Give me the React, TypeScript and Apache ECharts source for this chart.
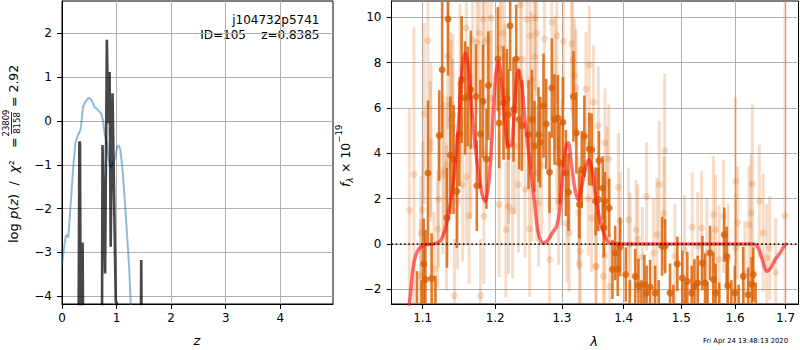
import React, { useEffect, useRef } from "react";
import * as echarts from "echarts";

const FONT = "DejaVu Sans";

// ---------- Left panel: log p(z) ----------
const zTicks = [0, 1, 2, 3, 4];
const logpTicks = [-4, -3, -2, -1, 0, 1, 2];

const blueZ = [0, 0.03, 0.07, 0.10, 0.115, 0.155, 0.21, 0.245, 0.28, 0.337, 0.355, 0.385, 0.43, 0.49, 0.54, 0.6, 0.64, 0.68, 0.72, 0.75, 0.78, 0.825, 0.85, 0.89, 0.935, 0.98, 1.01, 1.04, 1.07, 1.11, 1.15, 1.19, 1.23, 1.26, 1.3];
const blueLogP = [-3.3, -2.95, -2.62, -2.6, -2.66, -1.96, -1.0, -0.5, -0.36, -0.21, -0.05, 0.33, 0.44, 0.53, 0.48, 0.31, 0.28, 0.22, 0.17, 0.02, -0.28, -0.51, -0.82, -1.08, -0.97, -0.82, -0.59, -0.55, -0.66, -1.12, -1.8, -2.56, -3.33, -4.2, -5.0];

const chiZ = [0.30, 0.318, 0.330, 0.345, 0.365, 0.378, 0.392, 0.730, 0.742, 0.790, 0.822, 0.845, 0.872, 0.892, 0.925, 0.985, 1.005, 1.02, 1.438, 1.452, 1.462];
const chiLogP = [-6, -0.47, -0.5, -6, -6, -2.77, -6, -6, -0.55, -3.48, 1.85, -0.05, 1.12, -2.87, 0.63, -4.12, -4.15, -6, -6, -3.17, -6];

// ---------- Right panel: spectrum ----------
const lamTicks = [1.1, 1.2, 1.3, 1.4, 1.5, 1.6, 1.7];
const fluxTicks = [-2, 0, 2, 4, 6, 8, 10];

const modelLam = [1.080, 1.0834, 1.0877, 1.0929, 1.1008, 1.1141, 1.1230, 1.1298, 1.1366, 1.1435, 1.1481, 1.1528, 1.1573, 1.1619, 1.1667, 1.1737, 1.1808, 1.1855, 1.1902, 1.1951, 1.1998, 1.2045, 1.2094, 1.2143, 1.2191, 1.2240, 1.2288, 1.2337, 1.2387, 1.2436, 1.2511, 1.2586, 1.2636, 1.2712, 1.2789, 1.2866, 1.2919, 1.2970, 1.3022, 1.3064, 1.3100, 1.3153, 1.3205, 1.3257, 1.3311, 1.3380, 1.3433, 1.3488, 1.3541, 1.3606, 1.3688, 1.3771, 1.3900, 1.6355, 1.6453, 1.6552, 1.6620, 1.6700, 1.6787, 1.6888, 1.6989, 1.7029];
const modelFlux = [-3.2, -2.38, -0.99, -0.33, -0.06, 0.0, 0.11, 0.63, 1.66, 3.42, 5.19, 7.54, 8.43, 7.83, 5.92, 3.72, 2.25, 1.88, 2.54, 4.60, 7.10, 8.05, 7.10, 5.34, 4.31, 4.38, 6.37, 7.69, 7.10, 5.48, 3.57, 1.66, 0.49, 0.04, 0.19, 0.56, 0.78, 1.66, 3.42, 4.31, 4.46, 3.42, 2.40, 1.95, 2.54, 3.42, 3.72, 3.13, 1.95, 1.07, 0.34, 0.04, 0.0, 0.0, -0.18, -0.84, -1.21, -1.06, -0.69, -0.40, -0.03, 0.0];

const zeroLam = [1.0596, 1.7266];
const zeroFlux = [0, 0];

// [lambda, flux, error]
const darkPoints = [
  [1.0925, -3.0, 1.8], [1.0985, -3.2, 1.6], [1.1014, -0.88, 2.0], [1.1036, -1.57, 2.2], [1.107, 3.13, 3.2],
  [1.1118, -1.53, 2.0], [1.117, -2.9, 1.5], [1.122, 4.78, 2.0], [1.126, 7.69, 3.0], [1.1325, 1.15, 2.2],
  [1.134, 9.93, 2.5], [1.137, 3.91, 2.6], [1.1415, 3.72, 2.4], [1.146, 2.32, 2.5], [1.1495, 4.85, 2.3],
  [1.1526, 7.25, 2.8], [1.1574, 6.44, 2.5], [1.161, 6.51, 2.2], [1.1653, 6.81, 2.6], [1.1725, 6.51, 2.3],
  [1.1738, 2.57, 2.0], [1.1788, 4.85, 2.4], [1.1825, 6.29, 2.5], [1.1874, 3.75, 2.2], [1.1902, 6.99, 2.4],
  [1.2038, 8.16, 2.3], [1.2057, 5.34, 2.0], [1.212, 6.22, 2.5], [1.217, 6.40, 2.2], [1.2193, 5.71, 2.0],
  [1.2217, 9.63, 2.0], [1.2266, 5.93, 2.3], [1.2306, 8.16, 2.4], [1.235, 5.49, 2.2], [1.239, 5.22, 2.0],
  [1.2489, 4.82, 2.4], [1.254, 5.49, 2.2], [1.2579, 4.31, 2.0], [1.264, 4.82, 2.1], [1.2665, 4.49, 2.0],
  [1.2716, 6.10, 2.3], [1.2757, 5.29, 2.0], [1.2808, 3.16, 1.8], [1.2844, 6.88, 2.2], [1.2884, 5.49, 2.0],
  [1.2937, 5.56, 1.9], [1.2962, 3.57, 1.8], [1.3015, 5.37, 2.0], [1.3062, 3.13, 1.9], [1.3102, 2.28, 1.7],
  [1.318, 6.51, 2.0], [1.3227, 4.90, 1.8], [1.3275, 1.74, 1.5], [1.3313, 3.28, 1.7], [1.3354, 4.75, 1.8],
  [1.3433, 4.19, 1.6], [1.3472, 4.16, 1.6], [1.3536, 1.88, 1.5], [1.358, 1.96, 1.4], [1.359, 3.68, 1.3],
  [1.3652, 2.47, 1.4], [1.367, 0.71, 1.3], [1.3688, 1.88, 1.3], [1.3758, 1.59, 1.3], [1.3812, -1.13, 1.3],
  [1.3857, -0.40, 1.2], [1.390, -1.10, 1.2], [1.394, -0.13, 1.3], [1.4035, -1.35, 1.2], [1.41, -2.9, 1.3],
  [1.4195, -1.43, 1.2], [1.425, -1.84, 1.2], [1.43, -3.0, 1.4], [1.435, -1.79, 1.3], [1.439, -2.16, 1.2],
  [1.445, -1.90, 1.2], [1.4538, -2.16, 1.2], [1.46, -2.8, 1.2], [1.466, -0.10, 1.3], [1.4714, -0.10, 1.2],
  [1.480, -2.16, 1.3], [1.486, -3.1, 1.3], [1.493, -0.88, 1.2], [1.502, -1.50, 1.2], [1.507, -2.9, 1.2],
  [1.511, -1.65, 1.3], [1.519, -2.16, 1.2], [1.524, -1.87, 1.2], [1.530, -1.72, 1.2], [1.5385, -0.84, 1.2],
  [1.5435, -1.72, 1.3], [1.548, -2.9, 1.2], [1.5528, -0.40, 1.2], [1.5589, -1.57, 1.2], [1.5632, -2.16, 1.3],
  [1.57, -3.0, 1.3], [1.5795, 0.41, 1.2], [1.584, -0.54, 1.3], [1.586, -1.84, 1.2], [1.593, -2.8, 1.2],
  [1.5997, -2.16, 1.2], [1.607, -3.1, 1.3], [1.6158, -1.43, 1.3], [1.6256, -2.24, 1.2], [1.6323, -1.79, 1.2],
  [1.6355, -1.35, 1.2], [1.64, -2.9, 1.2],
];

const lightPoints = [
  [1.0825, 1.5, 4.5], [1.0885, 3.06, 6.5], [1.107, 8.97, 3.0], [1.102, 5.75, 4.0], [1.111, 4.49, 3.5],
  [1.110, 4.19, 3.0], [1.100, 1.51, 3.0], [1.0975, 0.49, 2.5], [1.120, 0.66, 2.6], [1.115, -1.10, 2.5],
  [1.0972, -1.40, 2.5], [1.121, 1.96, 3.0], [1.127, 3.06, 3.5], [1.1285, 3.25, 3.0], [1.132, 1.15, 3.2],
  [1.138, 5.51, 3.5], [1.137, 6.15, 3.2], [1.140, 5.16, 3.0], [1.1407, 5.69, 3.6], [1.1335, 8.28, 3.2],
  [1.1427, -2.28, 2.5], [1.147, 1.88, 3.0], [1.154, 2.62, 3.4], [1.159, 2.96, 3.0], [1.159, 9.53, 3.0],
  [1.168, 9.01, 3.5], [1.177, 9.31, 3.0], [1.174, 8.90, 3.2], [1.184, 8.90, 3.0], [1.189, 9.04, 3.3],
  [1.1825, 9.90, 3.0], [1.194, 9.97, 3.0], [1.1653, 4.31, 3.2], [1.163, 1.25, 3.0], [1.179, -2.28, 2.5],
  [1.1838, 1.22, 3.0], [1.1505, 7.10, 3.5], [1.194, 6.44, 3.0], [1.1324, 3.50, 3.0],
  [1.2365, 10.56, 3.0], [1.2464, 9.90, 3.0], [1.2589, 9.97, 3.2], [1.2514, 9.19, 3.0], [1.2614, 9.31, 2.8],
  [1.2844, 9.78, 3.0], [1.2921, 9.19, 3.0], [1.273, 9.04, 3.0], [1.3025, 8.94, 2.8], [1.315, 8.84, 3.0],
  [1.317, 8.13, 2.6], [1.2095, 9.31, 3.0], [1.207, 8.65, 3.0], [1.2133, 8.31, 3.0], [1.239, 8.16, 3.0],
  [1.258, 8.25, 3.0], [1.2529, 7.25, 3.0], [1.2895, 7.28, 2.8], [1.320, 7.43, 2.5], [1.3223, 6.88, 2.6],
  [1.338, 6.84, 2.5], [1.350, 6.25, 2.5], [1.3433, 7.91, 2.6], [1.234, 2.62, 3.0], [1.2436, 2.40, 3.0],
  [1.2057, 1.74, 3.2], [1.2193, 1.66, 3.0], [1.2252, 1.47, 3.0], [1.2154, 0.63, 3.0], [1.2504, 0.66, 3.0],
  [1.2641, 1.81, 2.8], [1.2808, -0.69, 2.8], [1.2948, 1.88, 2.8], [1.3077, 0.90, 2.6], [1.3114, 0.49, 2.6],
  [1.3288, -0.32, 2.4], [1.3275, -0.88, 2.5], [1.3536, -0.99, 2.4], [1.347, 1.15, 2.4], [1.2614, 3.13, 3.0],
  [1.2538, 3.13, 3.0], [1.269, 3.46, 3.0], [1.300, 3.60, 2.8], [1.292, 4.31, 2.8], [1.229, 4.31, 3.0],
  [1.219, 3.90, 3.0], [1.2144, 6.69, 3.0], [1.3262, 1.37, 2.5], [1.3418, 1.99, 2.5],
  [1.358, 5.22, 2.6], [1.369, 4.46, 2.4], [1.375, 3.75, 2.4], [1.372, 2.69, 2.5], [1.391, 2.50, 2.4],
  [1.394, 1.00, 2.2], [1.408, 1.07, 2.3], [1.421, 0.63, 2.2], [1.424, 0.22, 2.4], [1.439, 2.10, 2.4],
  [1.457, 0.41, 2.5], [1.461, 2.62, 2.8], [1.4706, 4.12, 3.4], [1.469, 1.34, 2.5], [1.3688, -0.51, 2.4],
  [1.3663, -1.43, 2.2], [1.377, -1.87, 2.3], [1.4317, -0.57, 2.2], [1.451, -0.40, 2.4], [1.4887, -0.54, 2.3],
  [1.506, -0.25, 2.4], [1.520, 0.75, 2.4], [1.355, -0.99, 2.4], [1.411, -0.03, 2.3],
  [1.537, 0.71, 2.5], [1.559, 1.29, 2.6], [1.563, 0.63, 2.4], [1.578, 1.22, 2.5], [1.601, 2.76, 3.7],
  [1.605, 0.93, 2.5], [1.627, 0.85, 2.6], [1.6336, 2.65, 3.5], [1.631, 1.37, 2.6], [1.6473, 1.88, 2.5],
  [1.655, 0.49, 2.6], [1.662, -0.62, 2.4], [1.668, -0.18, 2.3], [1.680, -1.25, 2.4], [1.6989, 1.25, 12],
  [1.547, -0.40, 2.4], [1.587, -0.62, 2.4], [1.601, -0.18, 2.4], [1.6193, -1.28, 2.3], [1.5696, -0.69, 2.4],
  [1.530, -0.10, 2.4],
];

const zip = (a: number[], b: number[]) => a.map((v, i) => [v, b[i]]);
const minus = (v: number | string) => String(v).replace("-", "\u2212");

export default function App() {
  const ref = useRef<HTMLDivElement>(null);

  useEffect(() => {
    const chart = echarts.init(ref.current!, null, { renderer: "svg" });

    const tick = (vals: number[]) => ({
      show: true,
      length: 5,
      inside: false,
      customValues: vals,
      lineStyle: { color: "#000", width: 1 },
    });
    const label = (vals: number[], margin: number, fmt: (v: number) => string) => ({
      show: true,
      customValues: vals,
      margin,
      color: "#000",
      fontSize: 12,
      fontFamily: FONT,
      formatter: fmt,
    });
    const split = { show: true, lineStyle: { color: "#b0b0b0", width: 1 } };
    const axLine = { show: true, onZero: false, lineStyle: { color: "#000", width: 1 } };

    const errBar = (color: string, width: number) => (params: any, api: any) => {
      const x = api.value(0);
      const y = api.value(1);
      const e = api.value(2);
      const p1 = api.coord([x, y + e]);
      const p2 = api.coord([x, y - e]);
      return {
        type: "line",
        shape: { x1: p1[0], y1: p1[1], x2: p2[0], y2: p2[1] },
        style: { stroke: color, lineWidth: width },
      };
    };

    const txt = (text: string, x: number, y: number, opts: any = {}) => ({
      type: "text",
      x,
      y,
      style: {
        text,
        fill: "#000",
        fontSize: 12,
        fontFamily: FONT,
        align: "left",
        verticalAlign: "middle",
        ...opts,
      },
    });

    chart.setOption({
      animation: false,
      backgroundColor: "#fff",
      grid: [
        { left: 62, top: 1, width: 271, height: 303, show: true, borderColor: "#000", borderWidth: 1, backgroundColor: "transparent" },
        { left: 391.5, top: 1, width: 407, height: 303, show: true, borderColor: "#000", borderWidth: 1, backgroundColor: "transparent" },
      ],
      xAxis: [
        {
          gridIndex: 0, type: "value", min: 0, max: 4.965,
          axisLine: axLine, axisTick: tick(zTicks),
          axisLabel: label(zTicks, 8, (v) => minus(v)), splitLine: split,
        },
        {
          gridIndex: 1, type: "log", logBase: 10, min: 1.0596, max: 1.7266,
          axisLine: axLine, axisTick: tick(lamTicks),
          axisLabel: label(lamTicks, 8, (v) => Number(v).toFixed(1)), splitLine: split,
          minorTick: { show: false }, minorSplitLine: { show: false },
        },
      ],
      yAxis: [
        {
          gridIndex: 0, type: "value", min: -4.175, max: 2.737,
          axisLine: axLine, axisTick: tick(logpTicks),
          axisLabel: label(logpTicks, 10, (v) => minus(v)), splitLine: split,
        },
        {
          gridIndex: 1, type: "value", min: -2.65, max: 10.72,
          axisLine: axLine, axisTick: tick(fluxTicks),
          axisLabel: label(fluxTicks, 10, (v) => minus(v)), splitLine: split,
        },
      ],
      series: [
        {
          type: "line", xAxisIndex: 0, yAxisIndex: 0, data: zip(blueZ, blueLogP),
          showSymbol: false, symbol: "none", clip: true,
          lineStyle: { color: "rgba(31,119,180,0.5)", width: 2 },
        },
        {
          type: "line", xAxisIndex: 0, yAxisIndex: 0, data: zip(chiZ, chiLogP),
          showSymbol: false, symbol: "none", clip: true,
          lineStyle: { color: "rgba(0,0,0,0.72)", width: 2.6 },
        },
        {
          type: "custom", xAxisIndex: 1, yAxisIndex: 1, data: lightPoints, clip: true,
          renderItem: errBar("rgba(217,95,2,0.22)", 3),
        },
        {
          type: "scatter", xAxisIndex: 1, yAxisIndex: 1, data: lightPoints.map((p) => [p[0], p[1]]),
          symbol: "circle", symbolSize: 7, clip: true,
          itemStyle: { color: "rgba(217,95,2,0.25)" },
        },
        {
          type: "custom", xAxisIndex: 1, yAxisIndex: 1, data: darkPoints, clip: true,
          renderItem: errBar("rgba(217,95,2,0.82)", 2.6),
        },
        {
          type: "scatter", xAxisIndex: 1, yAxisIndex: 1, data: darkPoints.map((p) => [p[0], p[1]]),
          symbol: "circle", symbolSize: 7, clip: true,
          itemStyle: { color: "#d75f06" },
        },
        {
          type: "line", xAxisIndex: 1, yAxisIndex: 1, data: zip(modelLam, modelFlux),
          showSymbol: false, symbol: "none", clip: true, smooth: 0.3,
          lineStyle: { color: "rgba(255,20,20,0.62)", width: 3.5 },
        },
        {
          type: "line", xAxisIndex: 1, yAxisIndex: 1, data: zip(zeroLam, zeroFlux),
          showSymbol: false, symbol: "none", clip: true,
          lineStyle: { color: "#000", width: 1.6, type: [1.6, 2.6] },
        },
      ],
      graphic: [
        txt("j104732p5741", 319.5, 19.5, { align: "right" }),
        txt("ID=105    z=0.8385", 319.5, 34.5, { align: "right" }),
        txt("z", 197, 340, { align: "center", fontStyle: "italic", fontSize: 13 }),
        txt("\u03bb", 594, 341, { align: "center", fontStyle: "italic", fontSize: 13 }),
        txt("Fri Apr 24 13:48:13 2020", 788, 340.7, { align: "right", fontSize: 6.8 }),
        {
          type: "group", x: 13, y: 243, rotation: Math.PI / 2,
          children: [
            {
              type: "text", x: 0, y: 0,
              style: {
                text: "{r|log }{i|p}{r|(}{i|z}{r|)  /  }{i|\u03c7}{r|\u00b2}",
                rich: {
                  r: { fontSize: 13, fontFamily: FONT, fill: "#000" },
                  i: { fontSize: 13, fontFamily: FONT, fontStyle: "italic", fill: "#000" },
                },
                align: "left", verticalAlign: "middle",
              },
            },
            txt("=", 95, 0, { fontSize: 12.5 }),
            txt("23809", 120, -7.5, { fontSize: 8.5, align: "center" }),
            { type: "line", shape: { x1: 109, y1: -1.5, x2: 131, y2: -1.5 }, style: { stroke: "#000", lineWidth: 0.8 } },
            txt("8158", 120, 4, { fontSize: 8.5, align: "center" }),
            txt("= 2.92", 136, 0, { fontSize: 12.5 }),
          ],
        },
        {
          type: "group", x: 345, y: 187, rotation: Math.PI / 2,
          children: [
            txt("f", 0, 0, { fontSize: 12.5, fontStyle: "italic" }),
            txt("\u03bb", 4.5, 4.5, { fontSize: 8.5, fontStyle: "italic" }),
            txt(" \u00d7 10", 10, 0, { fontSize: 12.5 }),
            txt("\u221219", 44.5, -6, { fontSize: 8.5 }),
          ],
        },
      ],
    });

    return () => chart.dispose();
  }, []);

  return <div ref={ref} style={{ position: "absolute", left: 0, top: 0, width: 800, height: 350 }} />;
}
